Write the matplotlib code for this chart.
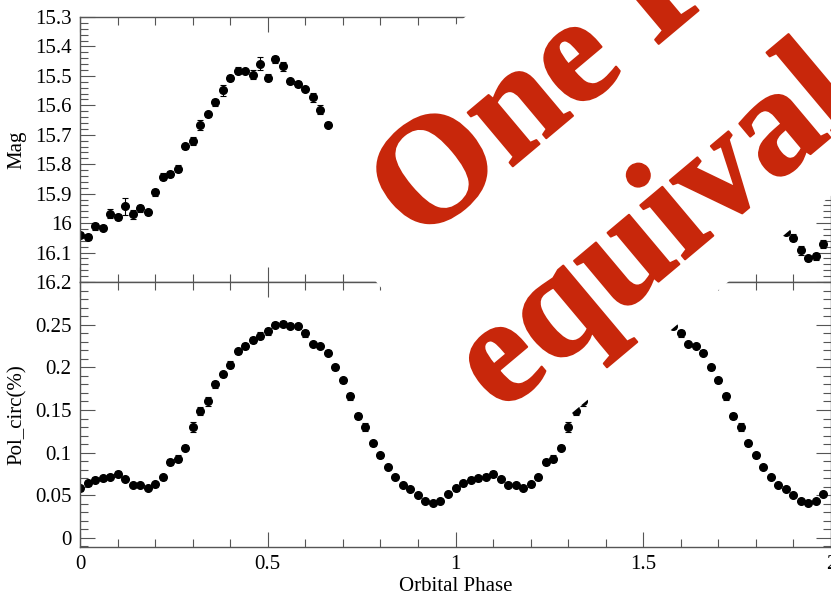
import numpy as np
import matplotlib
matplotlib.use("Agg")
import matplotlib.pyplot as plt
import matplotlib.patheffects as pe
from matplotlib.patches import Polygon
from matplotlib.ticker import MultipleLocator, FormatStrFormatter

plt.rcParams['font.family'] = ['Liberation Serif', 'DejaVu Serif']

# one orbital cycle, phase 0.00 .. 0.98, repeated for the second cycle
phase = np.arange(50) * 0.02

mag = [16.040, 16.047, 16.011, 16.015, 15.968, 15.979, 15.943, 15.970, 15.950, 15.963,
       15.895, 15.842, 15.832, 15.815, 15.739, 15.721, 15.667, 15.630, 15.590, 15.549,
       15.507, 15.482, 15.482, 15.496, 15.459, 15.507, 15.443, 15.468, 15.519, 15.528,
       15.545, 15.573, 15.615, 15.666, 15.700, 15.740, 15.790, 15.830, 15.870, 15.910,
       15.940, 15.970, 15.990, 16.010, 16.030, 16.050, 16.093, 16.120, 16.113, 16.071]
mag_err = [0.010, 0.010, 0.012, 0.010, 0.015, 0.010, 0.028, 0.015, 0.012, 0.008,
           0.012, 0.012, 0.010, 0.012, 0.008, 0.015, 0.018, 0.008, 0.012, 0.018,
           0.010, 0.012, 0.006, 0.015, 0.022, 0.012, 0.012, 0.015, 0.008, 0.010,
           0.008, 0.015, 0.015, 0.008, 0.010, 0.010, 0.010, 0.010, 0.010, 0.010,
           0.010, 0.010, 0.010, 0.010, 0.010, 0.012, 0.015, 0.010, 0.012, 0.012]

pol = [0.058, 0.064, 0.068, 0.070, 0.072, 0.075, 0.069, 0.062, 0.062, 0.059,
       0.063, 0.071, 0.089, 0.093, 0.106, 0.130, 0.149, 0.160, 0.180, 0.192,
       0.203, 0.219, 0.225, 0.232, 0.237, 0.242, 0.250, 0.251, 0.249, 0.248,
       0.240, 0.227, 0.225, 0.217, 0.200, 0.185, 0.166, 0.143, 0.130, 0.111,
       0.097, 0.083, 0.071, 0.062, 0.057, 0.050, 0.043, 0.041, 0.043, 0.052]
pol_err = [0.003, 0.003, 0.003, 0.003, 0.003, 0.003, 0.002, 0.002, 0.002, 0.002,
           0.003, 0.003, 0.004, 0.004, 0.003, 0.006, 0.005, 0.005, 0.004, 0.003,
           0.004, 0.003, 0.003, 0.004, 0.004, 0.004, 0.003, 0.003, 0.003, 0.003,
           0.004, 0.002, 0.002, 0.003, 0.003, 0.003, 0.004, 0.004, 0.005, 0.003,
           0.003, 0.002, 0.002, 0.002, 0.002, 0.002, 0.002, 0.002, 0.002, 0.002]

x2 = np.concatenate([phase, phase + 1])
mag2 = mag + mag
mag_err2 = mag_err + mag_err
pol2 = pol + pol
pol_err2 = pol_err + pol_err

W, H = 831, 605
fig = plt.figure(figsize=(W / 100, H / 100), dpi=100)
ax1 = fig.add_axes([80 / W, 1 - 282 / H, 751 / W, 265 / H])
ax2 = fig.add_axes([80 / W, 1 - 547 / H, 751 / W, 265 / H], sharex=ax1)

eb = dict(fmt='o', color='black', ms=5.5, elinewidth=0.8, capsize=2.5, capthick=0.8)
ax1.errorbar(x2, mag2, yerr=mag_err2, **eb)
ax2.errorbar(x2, pol2, yerr=pol_err2, **eb)

ax1.set_xlim(0, 2)
ax1.set_ylim(16.2, 15.3)
ax2.set_ylim(-0.0106, 0.3)

ax1.yaxis.set_major_locator(MultipleLocator(0.1))
ax1.yaxis.set_minor_locator(MultipleLocator(0.02))
ax2.set_yticks([0, 0.05, 0.1, 0.15, 0.2, 0.25])
ax2.yaxis.set_minor_locator(MultipleLocator(0.01))
ax2.xaxis.set_major_locator(MultipleLocator(0.5))
ax2.xaxis.set_minor_locator(MultipleLocator(0.1))
ax1.yaxis.set_major_formatter(FormatStrFormatter('%g'))
ax2.yaxis.set_major_formatter(FormatStrFormatter('%g'))
ax2.xaxis.set_major_formatter(FormatStrFormatter('%g'))

for ax in (ax1, ax2):
    ax.tick_params(which='both', direction='in', top=True, right=True,
                   color='#555555', width=0.8, labelsize=15, pad=6)
    ax.tick_params(which='major', length=11)
    ax.tick_params(which='minor', length=6)
    for s in ax.spines.values():
        s.set_color('#555555')
        s.set_linewidth(1.0)
ax1.tick_params(labelbottom=False)

ax1.set_ylabel('Mag', fontsize=15, labelpad=6)
ax2.set_ylabel('Pol_circ(%)', fontsize=15, labelpad=6)
ax2.set_xlabel('Orbital Phase', fontsize=15, labelpad=2)
fig.align_ylabels([ax1, ax2])

# rotated stamp: white band and red text, in pixel units along/across the baseline
ang = np.deg2rad(40)
c, s = np.cos(ang), np.sin(ang)


def rot(u, v):
    return ((c * u - s * v) / W, 1 - (-s * u - c * v) / H)


band = [rot(107, -312), rot(107, -684), rot(1300, -684), rot(1300, -312)]
fig.add_artist(Polygon(band, closed=True, facecolor='white', edgecolor='none',
                       transform=fig.transFigure, zorder=5))

red = '#c8270b'
for txt, u, v in [('One Figure', 163, -457), ('equivalent', 117, -639)]:
    xf, yf = rot(u, v)
    fig.text(xf, yf, txt, rotation=40, rotation_mode='anchor', ha='left', va='baseline',
             fontsize=110, fontweight='bold', color=red, zorder=6,
             path_effects=[pe.withStroke(linewidth=1.5, foreground=red, joinstyle='round')])

fig.savefig('out.png', dpi=100)
